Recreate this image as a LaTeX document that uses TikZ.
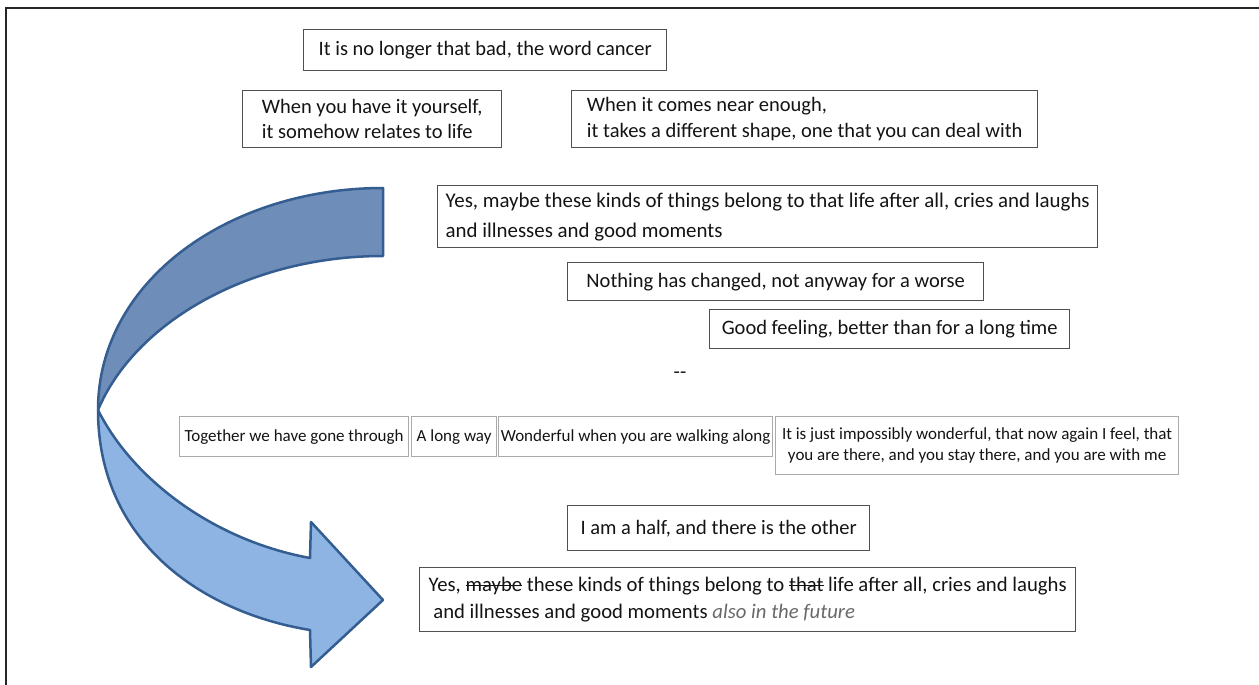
\documentclass[tikz,border=0pt]{standalone}
\usepackage{fontspec}
\setmainfont{Carlito}
\newsavebox\strkbox
\newcommand\strk[1]{\sbox\strkbox{#1}\rlap{\rule[0.25em]{\wd\strkbox}{1.2pt}}\usebox\strkbox}
\definecolor{arrdark}{RGB}{110,141,184}
\definecolor{arrlight}{RGB}{142,180,227}
\definecolor{arrline}{RGB}{52,93,145}
\definecolor{boxline}{RGB}{80,80,80}
\definecolor{rowline}{RGB}{170,170,170}
\definecolor{handgray}{RGB}{105,105,105}
\definecolor{txt}{RGB}{20,20,20}
\begin{document}
\begin{tikzpicture}[x=1pt,y=-1pt,
  tbox/.style={draw=boxline,line width=1.4pt,fill=white,inner sep=0pt,anchor=north west,text=txt,font=\fontsize{20.5}{25.5}\selectfont},
  rbox/.style={draw=rowline,line width=1.2pt,fill=white,inner sep=0pt,anchor=north west,text=txt,font=\fontsize{17}{21.5}\selectfont},
  arrowpart/.style={draw=arrline,line width=2.5pt,line join=round}]
\useasboundingbox (0,0) rectangle (1259,685);
\fill[white] (0,0) rectangle (1259,685);
% outer frame (only top and left visible)
\draw[line width=2pt,black!85] (6,685) -- (6,8) -- (1259,8);

% curved ribbon arrow
\path[arrowpart,fill=arrdark] (383,188) .. controls (230,188) and (98,280) .. (98,410)
   .. controls (135,322) and (250,256) .. (383,256) -- cycle;
\path[arrowpart,fill=arrlight] (98,410) .. controls (98,540) and (200,612) .. (310,630)
   -- (311,667) -- (383,600) -- (311,522) -- (310,558)
   .. controls (212,540) and (132,478) .. (98,410) -- cycle;

% top boxes
\node[tbox,minimum width=363pt,minimum height=41pt] (b1) at (303,29) {It is no longer that bad, the word cancer};
\node[tbox,minimum width=259pt,minimum height=57pt,align=left] (b2) at (242,90)
  {When you have it yourself,\\it somehow relates to life};
\node[tbox,minimum width=466pt,minimum height=57pt,align=left] (b3) at (571,90)
  {When it comes near enough,\\it takes a different shape, one that you can deal with};
\node[tbox,minimum width=660pt,minimum height=62pt,align=left,font=\fontsize{20.9}{30}\selectfont] (b4) at (437,185)
  {Yes, maybe these kinds of things belong to that life after all, cries and laughs\\and illnesses and good moments};
\node[tbox,minimum width=416pt,minimum height=38pt] (b5) at (567,262) {Nothing has changed, not anyway for a worse};
\node[tbox,minimum width=360pt,minimum height=39pt] (b6) at (709,309) {Good feeling, better than for a long time};
\node[text=txt,font=\fontsize{20.5}{24}\selectfont] (dash) at (680,375) {-{}-};

% row of boxes
\node[rbox,minimum width=229pt,minimum height=40pt] (r1) at (179,416) {Together we have gone through};
\node[rbox,minimum width=85pt,minimum height=40pt] (r2) at (411,416) {A long way};
\node[rbox,minimum width=274pt,minimum height=40pt] (r3) at (498,416) {Wonderful when you are walking along};
\node[rbox,minimum width=403pt,minimum height=58pt,align=center] (r4) at (775,416)
  {It is just impossibly wonderful, that now again I feel, that\\you are there, and you stay there, and you are with me};

% bottom boxes
\node[tbox,minimum width=302pt,minimum height=45pt] (b7) at (567,505) {I am a half, and there is the other};
\node[tbox,minimum width=656pt,minimum height=64pt,align=left,font=\fontsize{20.7}{27}\selectfont] (b8) at (419,567)
  {Yes, \strk{maybe} these kinds of things belong to \strk{that} life after all, cries and laughs\\
   \ and illnesses and good moments {\color{handgray}\itshape also in the future}};
\end{tikzpicture}
\end{document}
